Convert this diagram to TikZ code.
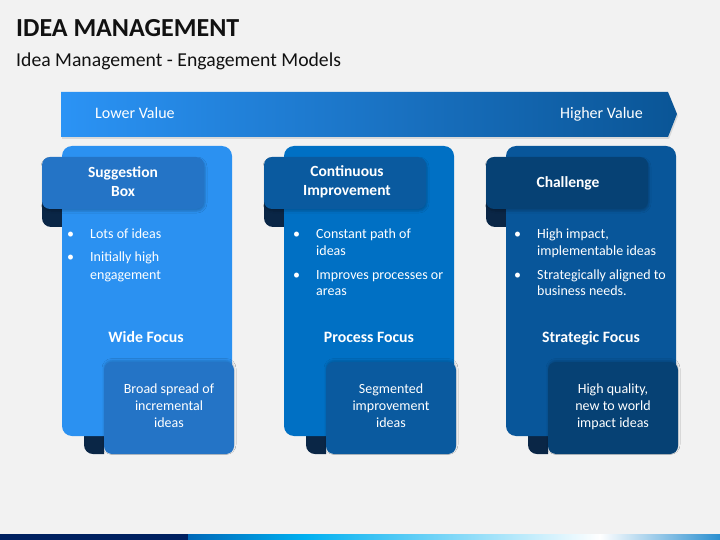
\documentclass[tikz,border=0pt]{standalone}
\usepackage{fontspec}
\setmainfont{Carlito}
\usetikzlibrary{shadows.blur}
\definecolor{bg}{HTML}{F2F2F2}
\definecolor{titlec}{HTML}{111111}
\definecolor{curlc}{HTML}{0A2646}
\definecolor{panA}{HTML}{2B91F1}
\definecolor{hdrA}{HTML}{2474C6}
\definecolor{panB}{HTML}{0070C4}
\definecolor{hdrB}{HTML}{0A5A9F}
\definecolor{panC}{HTML}{08569A}
\definecolor{hdrC}{HTML}{064174}
\definecolor{arrL}{HTML}{2B93F5}
\definecolor{arrR}{HTML}{0A5596}
\definecolor{navy}{HTML}{002060}
\definecolor{barB}{HTML}{0068B8}
\definecolor{barC}{HTML}{00B0F0}
\definecolor{barE}{HTML}{2A8FD0}
\tikzset{
  hdrtext/.style={text=white, font=\fontsize{15.5}{18.5}\selectfont\bfseries, align=center, inner sep=0pt},
  bodytext/.style={text=white, font=\fontsize{14}{17}\selectfont, inner sep=0pt},
  focustext/.style={text=white, font=\fontsize{15.8}{18}\selectfont\bfseries, inner sep=0pt},
  boxtext/.style={text=white, font=\fontsize{14}{17}\selectfont, align=center, inner sep=0pt},
  valtext/.style={text=white, font=\fontsize{16}{18}\selectfont, inner sep=0pt},
  tabshadow/.style={blur shadow={shadow xshift=1pt, shadow yshift=-2pt, shadow blur steps=5, shadow opacity=22, shadow blur radius=2pt}},
  boxshadow/.style={blur shadow={shadow xshift=0pt, shadow yshift=1.5pt, shadow blur steps=5, shadow opacity=20, shadow blur radius=2pt}},
}
% one column of shapes, drawn in column-1 coordinates and shifted
\newcommand\ideacolshapes[3]{%
  \begin{scope}[xshift=#1]
    % header curl
    \fill[curlc] (42,200) -- (62,200) -- (62,227) -- (51,227)
      .. controls (46,227) and (42,223) .. (42,218) -- cycle;
    % bottom curl
    \fill[curlc] (84,430) -- (104,430) -- (104,454) -- (93,454)
      .. controls (88,454) and (84,450) .. (84,445) -- cycle;
    % panel
    \fill[#2, rounded corners=10pt] (62,146) rectangle (232,436);
    % header tab
    \fill[#3, rounded corners=8pt, tabshadow] (42,157) rectangle (204,209);
    % bottom box
    \fill[#3, rounded corners=8pt, boxshadow] (104,362) rectangle (234,454);
  \end{scope}}
\begin{document}
\begin{tikzpicture}[x=1pt,y=-1pt]
\useasboundingbox (0,0) rectangle (720,540);
\fill[bg] (0,0) rectangle (720,540);

% titles
\node[anchor=base west, inner sep=0pt, text=titlec, font=\fontsize{26}{30}\selectfont\bfseries] (title) at (16,37) {IDEA MANAGEMENT};
\node[anchor=base west, inner sep=0pt, text=titlec, font=\fontsize{19.7}{23}\selectfont] (subtitle) at (16,67) {Idea Management - Engagement Models};

% value arrow
\fill[black, opacity=0.10] (62,94) -- (669,94) -- (678,116) -- (669,139) -- (62,139) -- cycle;
\shade[left color=arrL, right color=arrR] (61,92) -- (668,92) -- (677,114) -- (668,137) -- (61,137) -- cycle;
\node[valtext, anchor=base west] (lower) at (95,119) {Lower Value};
\node[valtext, anchor=base east] (higher) at (643,119) {Higher Value};

% columns
\ideacolshapes{0pt}{panA}{hdrA}
\ideacolshapes{222pt}{panB}{hdrB}
\ideacolshapes{444pt}{panC}{hdrC}

% column 1 (base anchor of a multi-line node = baseline of its last line)
\node[hdrtext, anchor=base] (h1) at (123,196.5) {Suggestion\\Box};
\node[bodytext, anchor=base west] (l1) at (67,239)
  {\begin{tabular}[t]{@{}p{23pt}@{}l@{}}•&Lots of ideas\\[6pt]•&Initially high\\&engagement\end{tabular}};
\node[focustext, anchor=base] (f1) at (146,342) {Wide Focus};
\node[boxtext, anchor=base] (b1) at (169,427) {Broad spread of\\incremental\\ideas};

% column 2
\node[hdrtext, anchor=base] (h2) at (347,195.5) {Continuous\\Improvement};
\node[bodytext, anchor=base west] (l2) at (293,239)
  {\begin{tabular}[t]{@{}p{23pt}@{}l@{}}•&Constant path of\\&ideas\\[6pt]•&Improves processes or\\&areas\end{tabular}};
\node[focustext, anchor=base] (f2) at (369,342) {Process Focus};
\node[boxtext, anchor=base] (b2) at (391,427) {Segmented\\improvement\\ideas};

% column 3
\node[hdrtext, anchor=base] (h3) at (568,188) {Challenge};
\node[bodytext, anchor=base west] (l3) at (514,239)
  {\begin{tabular}[t]{@{}p{23pt}@{}l@{}}•&High impact,\\&implementable ideas\\[6pt]•&Strategically aligned to\\&business needs.\end{tabular}};
\node[focustext, anchor=base] (f3) at (591,342) {Strategic Focus};
\node[boxtext, anchor=base] (b3) at (613,427) {High quality,\\new to world\\impact ideas};

% bottom bar
\fill[navy] (0,534) rectangle (188,540);
\shade[left color=barB, right color=barC] (188,534) rectangle (305,540);
\shade[left color=barC, right color=white] (304.5,534) rectangle (600,540);
\shade[left color=white, right color=barE] (599.5,534) rectangle (720,540);
\end{tikzpicture}
\end{document}
